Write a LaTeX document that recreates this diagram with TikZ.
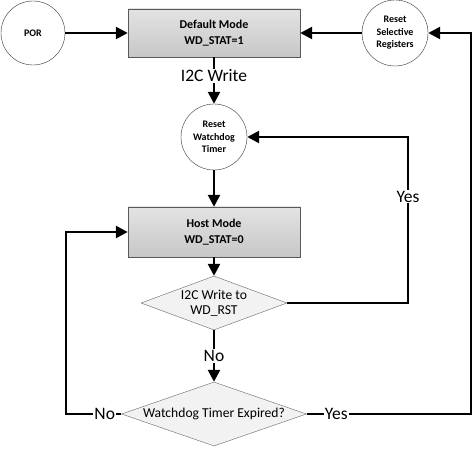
\documentclass[tikz,border=0pt]{standalone}
\usepackage{fontspec}
\setmainfont{Carlito}
\usetikzlibrary{shapes.geometric,arrows.meta}

\begin{document}
\begin{tikzpicture}[x=1pt, y=-1pt,
mode_style/.style={rectangle,draw=black!65,top color=black!11,bottom color=black!22,minimum width=172,minimum height=48,align=center,font=\fontsize{12}{16}\selectfont\bfseries},
step_style/.style={circle,draw=black!80,fill=white,inner sep=0pt,align=center,font=\fontsize{10}{12.5}\selectfont\bfseries},
test_style/.style={diamond,draw=black!60,fill=black!5,inner sep=0pt,align=center,font=\fontsize{13.6}{15}\selectfont},
edge_style/.style={draw=black, line width=2.5pt, -{Triangle[length=12pt,width=12pt]}},
label_style/.style={fill=white,inner sep=1pt,font=\fontsize{17.5}{19}\selectfont}]
\useasboundingbox (0,0) rectangle (474,449);

\node[step_style, minimum size=64] (por) at (33,33) {POR};
\node[mode_style] (default) at (214,33) {Default Mode\\WD\_STAT=1};
\node[step_style, minimum size=66] (regs) at (395,33) {Reset\\Selective\\Registers};
\node[step_style, minimum size=66] (wdt) at (214,137) {Reset\\Watchdog\\Timer};
\node[mode_style, minimum height=50] (host) at (214,232) {Host Mode\\WD\_STAT=0};
\node[test_style, aspect=2.7, minimum width=146, minimum height=54] (wdrst) at (214,303) {I2C Write to\\WD\_RST};
\node[test_style, aspect=2.9, minimum width=185, minimum height=64] (expired) at (214,414) {Watchdog Timer Expired?};
\coordinate (yes_turn) at (408,137);
\coordinate (no_turn) at (66,232);
\coordinate (exp_turn) at (471,33);

\draw[edge_style] (por) -- (default);
\draw[edge_style] (regs) -- (default);
\draw[edge_style] (default) -- node[label_style, pos=0.4]{I2C Write} (wdt);
\draw[edge_style] (wdt) -- (host);
\draw[edge_style] (host) -- (wdrst);
\draw[edge_style] (wdrst) -- node[label_style]{No} (expired);
\draw[edge_style] (wdrst.east) -| node[label_style, pos=0.82]{Yes} (yes_turn) -- (wdt);
\draw[edge_style] (expired.west) -| node[label_style, pos=0.15]{No} (no_turn) -- (host);
\draw[edge_style] (expired.east) -| node[label_style, pos=0.09]{Yes} (exp_turn) -- (regs);
\end{tikzpicture}
\end{document}
